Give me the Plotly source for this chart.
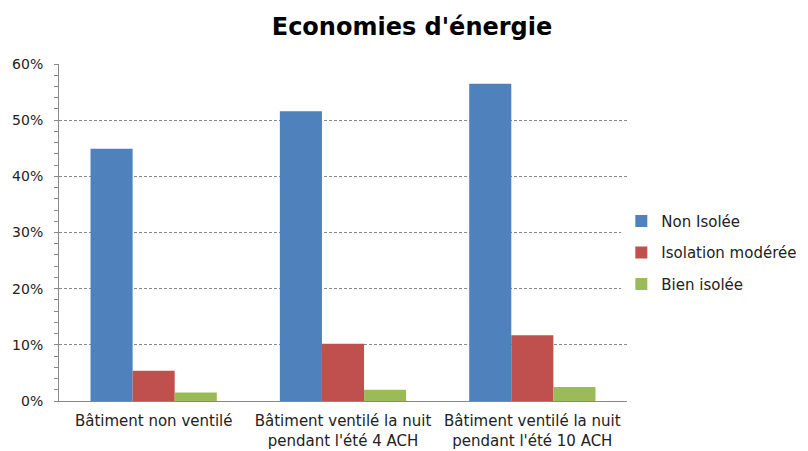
import plotly.graph_objects as go

categories = ["Bâtiment non ventilé",
              "Bâtiment ventilé la nuit<br>pendant l'été 4 ACH",
              "Bâtiment ventilé la nuit<br>pendant l'été 10 ACH"]
series_names = ["Non Isolée", "Isolation modérée", "Bien isolée"]
non_isolee = [0.449, 0.516, 0.565]
isolation_moderee = [0.054, 0.102, 0.117]
bien_isolee = [0.015, 0.020, 0.025]
colors = ["#4F81BD", "#C0504D", "#9BBB59"]

font_family = "'DejaVu Sans', sans-serif"

fig = go.Figure()
for i, (name, vals) in enumerate(zip(series_names, [non_isolee, isolation_moderee, bien_isolee])):
    fig.add_trace(go.Bar(x=categories, y=vals, name=name, marker_color=colors[i],
                         marker_line_width=0, legendgroup=f"g{i}"))

fig.update_layout(
    width=800, height=443,
    paper_bgcolor="white", plot_bgcolor="white",
    margin=dict(l=51, r=181, t=56, b=50, autoexpand=False),
    barmode="group", bargap=0.333, bargroupgap=0,
    title=dict(text="<b>Economies d'énergie</b>", x=0.505, xanchor="center", y=0.959, yanchor="middle",
               font=dict(family=font_family, size=24, color="black")),
    font=dict(family=font_family, size=13, color="#222"),
    legend=dict(x=0.99, xanchor="left", y=0.44, yanchor="middle", tracegroupgap=9,
                font=dict(size=15, color="#222"), itemwidth=30),
    showlegend=True,
)
fig.update_yaxes(range=[0, 0.6], dtick=0.1, tickformat=".0%", showgrid=True,
                 gridcolor="#888", griddash="3px,2px", gridwidth=1,
                 showline=True, linecolor="#888", linewidth=1,
                 ticks="outside", ticklen=4, tickcolor="#888",
                 minor=dict(dtick=0.02, ticks="outside", ticklen=4, tickcolor="#888", showgrid=False),
                 zeroline=False, ticklabelstandoff=8, tickfont=dict(size=14, color="#222"))
fig.update_xaxes(showline=True, linecolor="#888", linewidth=1, ticks="", tickangle=0,
                 ticklabelstandoff=6, tickfont=dict(size=15, color="#222"))

fig.write_html("out.html")
